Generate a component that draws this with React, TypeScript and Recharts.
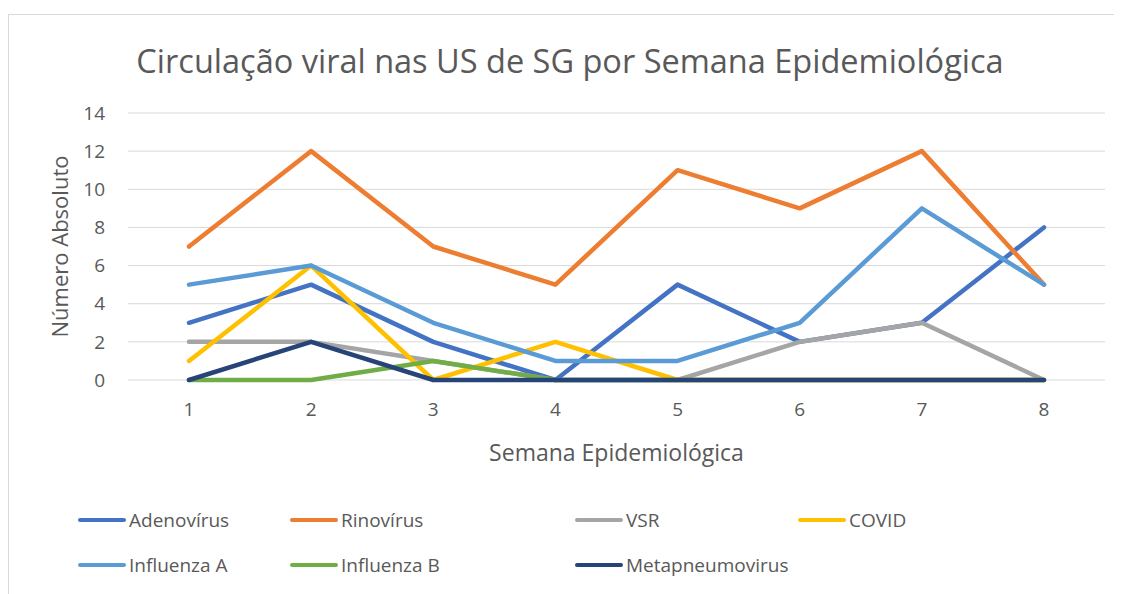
import React from 'react'
import { LineChart, Line, XAxis, YAxis, CartesianGrid, Legend } from 'recharts'

const weeks = ['1', '2', '3', '4', '5', '6', '7', '8']
const yTicks = [0, 2, 4, 6, 8, 10, 12, 14]

const adenovirus = [3, 5, 2, 0, 5, 2, 3, 8]
const rinovirus = [7, 12, 7, 5, 11, 9, 12, 5]
const vsr = [2, 2, 1, 0, 0, 2, 3, 0]
const covid = [1, 6, 0, 2, 0, 0, 0, 0]
const influenzaA = [5, 6, 3, 1, 1, 3, 9, 5]
const influenzaB = [0, 0, 1, 0, 0, 0, 0, 0]
const metapneumovirus = [0, 2, 0, 0, 0, 0, 0, 0]

const SERIES = [
  { key: 'Adenovírus', values: adenovirus, color: '#4472C4' },
  { key: 'Rinovírus', values: rinovirus, color: '#ED7D31' },
  { key: 'VSR', values: vsr, color: '#A5A5A5' },
  { key: 'COVID', values: covid, color: '#FFC000' },
  { key: 'Influenza A', values: influenzaA, color: '#5B9BD5' },
  { key: 'Influenza B', values: influenzaB, color: '#70AD47' },
  { key: 'Metapneumovirus', values: metapneumovirus, color: '#264478' },
]

const data = weeks.map((w, i) => {
  const row: Record<string, string | number> = { week: w }
  SERIES.forEach(s => { row[s.key] = s.values[i] })
  return row
})

const FONT = '"Open Sans", sans-serif'
const TEXT = '#595959'

// legend columns, as Excel lays them out
const COL_LEFT = [69, 281, 566, 789]

function LegendBox() {
  return (
    <div style={{ position: 'relative', width: 1113, height: 120, fontFamily: FONT }}>
      {SERIES.map((s, i) => {
        const row = Math.floor(i / 4)
        const col = i % 4
        return (
          <div
            key={s.key}
            style={{
              position: 'absolute', left: COL_LEFT[col], top: 45 * row + 32,
              display: 'flex', alignItems: 'center', height: 26,
            }}
          >
            <div style={{ width: 48, height: 4.5, borderRadius: 3, background: s.color, marginRight: 3 }} />
            <span style={{ fontSize: 19, color: TEXT, whiteSpace: 'nowrap' }}>{s.key}</span>
          </div>
        )
      })}
    </div>
  )
}

export default function App() {
  return (
    <div
      style={{
        position: 'relative', marginTop: 6, width: 1113, height: 580,
        borderTop: '1.5px solid #d9d9d9', borderLeft: '1.5px solid #d9d9d9',
        fontFamily: FONT,
      }}
    >
      <style>{'html, body { overflow: hidden; }'}</style>
      <div
        style={{
          position: 'absolute', left: 0, width: 1122, top: 23, textAlign: 'center',
          fontSize: 32.5, color: TEXT, zIndex: 2,
        }}
      >
        Circulação viral nas US de SG por Semana Epidemiológica
      </div>
      <LineChart width={1113} height={580} data={data} margin={{ top: 98, right: 17, left: 0, bottom: 0 }}>
        <CartesianGrid vertical={false} stroke="#d9d9d9" strokeWidth={1} />
        <XAxis
          dataKey="week"
          axisLine={false}
          tickLine={false}
          height={95}
          padding={{ left: 61, right: 61 }}
          tick={{ fill: TEXT, fontSize: 19, fontFamily: FONT }}
          tickMargin={17}
          label={{ value: 'Semana Epidemiológica', position: 'insideBottom', offset: 14, fill: TEXT, fontSize: 23, fontFamily: FONT }}
        />
        <YAxis
          width={119}
          domain={[0, 14]}
          ticks={yTicks}
          axisLine={false}
          tickLine={false}
          tickMargin={17}
          tick={{ fill: TEXT, fontSize: 19, fontFamily: FONT }}
          label={{ value: 'Número Absoluto', angle: -90, position: 'insideLeft', offset: 51, fill: TEXT, fontSize: 22, fontFamily: FONT, style: { textAnchor: 'middle' } }}
        />
        <Legend verticalAlign="bottom" content={() => <LegendBox />} wrapperStyle={{ left: 0, bottom: 0 }} />
        {SERIES.map(s => (
          <Line
            key={s.key}
            dataKey={s.key}
            stroke={s.color}
            strokeWidth={4.5}
            strokeLinecap="round"
            strokeLinejoin="round"
            dot={false}
            activeDot={false}
            isAnimationActive={false}
          />
        ))}
      </LineChart>
    </div>
  )
}
